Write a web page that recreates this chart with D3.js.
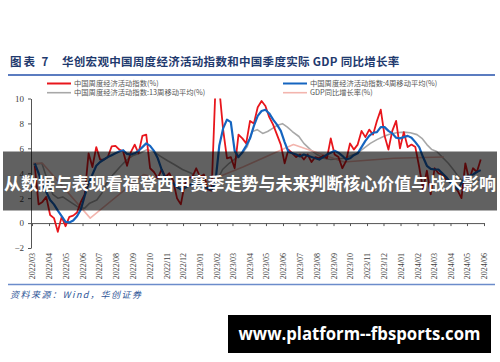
<!DOCTYPE html>
<html>
<head>
<meta charset="utf-8">
<script src="https://cdn.jsdelivr.net/npm/d3@7"></script>
<style>
  html, body { margin: 0; padding: 0; background: #fff; }
  svg { display: block; }
</style>
</head>
<body>
<svg id="chart" width="500" height="362"></svg>
<script>
// month tick labels on the x axis
const monthTicks = [
  "2022/03", "2022/04", "2022/05", "2022/06", "2022/07", "2022/08", "2022/09",
  "2022/10", "2022/11", "2022/12", "2023/01", "2023/02", "2023/03", "2023/04",
  "2023/05", "2023/06", "2023/07", "2023/08", "2023/09", "2023/10", "2023/11",
  "2023/12", "2024/01", "2024/02", "2024/03", "2024/04", "2024/05", "2024/06"
];
const yTicks = [-2, 0, 2, 4, 6, 8, 10];

// weekly series, first week 2022-03-06
const weekStart = "2022-03-06";
const weeklyIndex = [
  4.6, 1.5, 1.7, 2.1, 0.65, 0.4, -0.7, 0.5, -0.25, 0.5,
  0.6, 0.85, 1.7, 2.3, 5.6, 4.5, 6.1, 5.1, 5.1, 5.3,
  6.15, 6.2, 5.9, 5.75, 4.6, 5.7, 6.3, 5.6, 7.0, 7.1,
  4.4, 4.1, 3.6, 4.3, 3.7, 4.0, 3.4, 2.0, 1.5, 3.1,
  3.6, 3.7, 4.4, 3.7, 3.9, 2.7, 2.6, 10.8, 10.8, 7.5,
  5.2, 5.3, 4.4, 7.1, 6.8, 6.4, 8.2, 8.0, 9.3, 9.8,
  9.4, 8.5, 7.9, 7.1, 6.3, 4.8, 5.9, 5.6, 5.3, 5.5,
  5.1, 5.5, 4.9, 5.3, 5.2, 5.4, 5.2, 6.8, 5.5, 5.3,
  4.4, 5.0, 6.4, 5.9, 6.3, 7.4, 6.9, 7.5, 7.1, 8.2,
  9.1, 7.0, 5.9, 7.4, 8.2, 6.0, 7.3, 6.1, 6.3, 6.1,
  4.5, 2.7, 4.2, 2.3, 4.4, 4.0, 3.9, 3.5, 3.3, 3.0,
  2.6, 2.0, 4.8, 3.5, 4.4, 4.1, 5.1
];
const weeklyMA4 = [
  4.8, 4.0, 3.1, 2.5, 1.85, 1.5, 1.0, 0.55, 0.1, 0.05,
  0.2, 0.55, 1.1, 2.2, 3.2, 3.9, 4.6, 4.9, 5.1, 5.3,
  5.45, 5.6, 5.75, 5.85, 5.55, 5.5, 5.6, 5.8, 6.1, 6.4,
  6.2, 5.8, 5.2, 4.3, 3.6, 3.4, 3.2, 2.9, 2.7, 2.8,
  3.0, 3.15, 3.2, 3.1, 2.9, 2.8, 2.7, 3.3, 6.2, 7.6,
  8.3, 8.1, 5.8, 5.3, 5.7, 6.2, 6.8, 7.8, 8.6, 9.0,
  9.1, 8.8, 8.3, 7.9, 7.4, 6.5, 5.7, 5.6, 5.5, 5.35,
  5.5, 5.4, 5.3, 5.2, 5.1, 5.3, 5.5, 5.65, 5.8, 5.65,
  5.4, 5.1, 5.2, 5.45, 5.6, 6.1, 6.6, 7.0, 7.25, 7.3,
  7.7, 7.7, 7.4, 7.2, 6.85, 6.8, 6.9, 7.0, 6.85, 6.5,
  6.1, 5.3, 4.6, 4.35, 4.3, 4.3, 4.0, 3.7, 3.3, 2.95,
  2.7, 3.2, 3.6, 3.8, 3.9, 4.1, 4.25
];

// 13 week moving average, read at its turning points
const ma13 = [
  ["2022-03-03", 4.7], ["2022-03-19", 4.8], ["2022-03-28", 3.6], ["2022-04-08", 2.3],
  ["2022-04-17", 2.0], ["2022-04-26", 2.1], ["2022-05-13", 1.6], ["2022-05-27", 1.2],
  ["2022-06-05", 1.2], ["2022-06-14", 1.6], ["2022-06-27", 1.85], ["2022-07-06", 2.4],
  ["2022-07-15", 3.2], ["2022-07-26", 3.85], ["2022-08-08", 4.5], ["2022-08-20", 5.05],
  ["2022-08-31", 5.4], ["2022-09-13", 5.6], ["2022-09-27", 5.9], ["2022-10-10", 5.7],
  ["2022-10-21", 5.35], ["2022-11-03", 5.0], ["2022-11-15", 4.7], ["2022-11-30", 4.3],
  ["2022-12-16", 4.0], ["2022-12-28", 3.6], ["2023-01-09", 3.35], ["2023-01-18", 3.1],
  ["2023-01-27", 2.8], ["2023-02-02", 3.5], ["2023-02-11", 4.3], ["2023-02-23", 4.8],
  ["2023-03-07", 5.2], ["2023-03-19", 5.6], ["2023-03-28", 6.15], ["2023-04-06", 7.35],
  ["2023-04-15", 7.5], ["2023-04-25", 7.2], ["2023-05-04", 7.35], ["2023-05-13", 7.6],
  ["2023-05-22", 7.85], ["2023-05-31", 7.98], ["2023-06-09", 7.7], ["2023-06-18", 7.35],
  ["2023-06-30", 6.95], ["2023-07-09", 6.4], ["2023-07-21", 5.9], ["2023-08-02", 5.5],
  ["2023-08-14", 5.2], ["2023-08-27", 5.1], ["2023-09-20", 5.2], ["2023-10-14", 5.6],
  ["2023-10-26", 6.0], ["2023-11-07", 6.4], ["2023-11-19", 6.7], ["2023-12-01", 6.95],
  ["2023-12-13", 7.15], ["2023-12-25", 7.25], ["2024-01-07", 7.3], ["2024-01-19", 7.25],
  ["2024-01-31", 7.1], ["2024-02-09", 6.8], ["2024-02-18", 6.3], ["2024-02-27", 5.9],
  ["2024-03-07", 5.75], ["2024-03-19", 5.2], ["2024-03-28", 4.8], ["2024-04-06", 4.3],
  ["2024-04-15", 3.75], ["2024-04-24", 3.3], ["2024-05-07", 3.3], ["2024-05-19", 3.4],
  ["2024-05-28", 3.5]
];

// quarterly real GDP yoy
const gdp = [
  ["2022-03-03", 4.8], ["2022-03-20", 4.8], ["2022-06-15", 0.4], ["2022-09-20", 3.9],
  ["2022-12-20", 2.9], ["2023-03-20", 4.5], ["2023-06-20", 6.3], ["2023-09-20", 4.9],
  ["2023-12-20", 5.2], ["2024-03-20", 5.3]
];

const legendLabels = [
  "中国周度经济活动指数(%)",
  "中国周度经济活动指数:4周移动平均(%)",
  "中国周度经济活动指数:13周移动平均(%)",
  "GDP同比增长率(%)"
];
const colors = ["#e8161c", "#1565c0", "#a8a8a8", "#f3b5ae"];

const cjk = '"Noto Sans CJK SC", "Noto Sans", sans-serif';
const serif = '"Liberation Serif", "DejaVu Serif", serif';

const parseDay = d3.timeParse("%Y-%m-%d");
const parseMonth = d3.timeParse("%Y/%m");
const start = parseDay(weekStart);
const weekly = (vals) => vals.map((v, i) => ({ date: d3.timeDay.offset(start, 7 * i), value: v }));
const pairs = (arr) => arr.map(([d, v]) => ({ date: parseDay(d), value: v }));

const svg = d3.select("#chart");
svg.append("rect").attr("width", 500).attr("height", 362).attr("fill", "#fff");

const x = d3.scaleTime()
  .domain([parseMonth(monthTicks[0]), parseMonth(monthTicks[monthTicks.length - 1])])
  .range([32, 484]);
const y = d3.scaleLinear().domain([-2, 10]).range([248, 98.5]);

// title
svg.append("text")
  .attr("x", 10).attr("y", 66)
  .style("font-family", cjk).style("font-weight", "bold").style("font-size", "11.5px")
  .style("letter-spacing", "2px")
  .attr("fill", "#1f3a6e")
  .text("图表 7");
svg.append("text")
  .attr("x", 62).attr("y", 66)
  .style("font-family", cjk).style("font-weight", "bold").style("font-size", "11.5px")
  .style("letter-spacing", "0.3px")
  .attr("fill", "#1f3a6e")
  .text("华创宏观中国周度经济活动指数和中国季度实际 GDP 同比增长率");
svg.append("line").attr("x1", 8).attr("x2", 495).attr("y1", 75).attr("y2", 75)
  .attr("stroke", "#5b7cc0").attr("stroke-width", 2.2);

// legend
const legendPos = [[47, 83.5], [283, 83.5], [47, 92.7], [283, 92.7]];
const legend = svg.append("g");
legendLabels.forEach((lab, i) => {
  const [lx, ly] = legendPos[i];
  legend.append("line").attr("x1", lx).attr("x2", lx + 24).attr("y1", ly).attr("y2", ly)
    .attr("stroke", colors[i]).attr("stroke-width", i < 2 ? 2 : 1.6);
  legend.append("text").attr("x", lx + 27).attr("y", ly).attr("dy", "0.35em")
    .style("font-family", cjk).style("font-size", "7.3px").attr("fill", "#555")
    .text(lab);
});

// axes
const yAxis = svg.append("g").attr("transform", "translate(31,0)")
  .call(d3.axisLeft(y).tickValues(yTicks).tickSize(3).tickSizeOuter(0).tickPadding(4));
yAxis.selectAll("text").style("font-family", serif).style("font-size", "9px").attr("fill", "#404040");

const xAxis = svg.append("g").attr("transform", `translate(0,${y(0)})`)
  .call(d3.axisBottom(x)
    .tickValues(monthTicks.map(parseMonth))
    .tickFormat(d3.timeFormat("%Y/%m"))
    .tickSize(3).tickSizeOuter(0));
xAxis.selectAll("text")
  .attr("transform", "rotate(-90)")
  .attr("x", -(253 - y(0))).attr("y", 0).attr("dy", "0.35em")
  .style("text-anchor", "end")
  .style("font-family", serif).style("font-size", "8px").attr("fill", "#404040");
svg.selectAll(".domain, .tick line").attr("stroke", "#555").attr("stroke-width", 1);

// lines
svg.append("clipPath").attr("id", "plot")
  .append("rect").attr("x", 30).attr("y", y(10)).attr("width", 458).attr("height", y(-2) - y(10));
const line = d3.line().x(d => x(d.date)).y(d => y(d.value));
const plot = svg.append("g").attr("clip-path", "url(#plot)");
const series = [
  { data: pairs(ma13), color: colors[2], w: 1.6 },
  { data: pairs(gdp), color: colors[3], w: 1.6 },
  { data: weekly(weeklyIndex), color: colors[0], w: 1.8 },
  { data: weekly(weeklyMA4), color: colors[1], w: 2.2 }
];
plot.selectAll("path").data(series).join("path")
  .attr("d", d => line(d.data))
  .attr("fill", "none")
  .attr("stroke", d => d.color)
  .attr("stroke-width", d => d.w)
  .attr("stroke-linejoin", "round");

// footer
svg.append("line").attr("x1", 8).attr("x2", 495).attr("y1", 284.5).attr("y2", 284.5)
  .attr("stroke", "#6b8ccb").attr("stroke-width", 1.5);
svg.append("text").attr("x", 10).attr("y", 298)
  .style("font-family", cjk).style("font-style", "italic").style("font-size", "9px")
  .style("letter-spacing", "1.5px")
  .attr("fill", "#2e5597")
  .text("资料来源：Wind，华创证券");

// overlay banner
svg.append("rect").attr("x", 3).attr("y", 151.5).attr("width", 494).attr("height", 59)
  .attr("fill", "#000").attr("fill-opacity", 0.62);
svg.append("text").attr("x", 250).attr("y", 184.5).attr("dy", "0.35em")
  .style("font-family", cjk).style("font-weight", "bold").style("font-size", "16.8px")
  .style("text-anchor", "middle").attr("fill", "#fff")
  .attr("textLength", 492).attr("lengthAdjust", "spacingAndGlyphs")
  .text("从数据与表现看福登西甲赛季走势与未来判断核心价值与战术影响");

// watermark
svg.append("rect").attr("x", 228).attr("y", 315).attr("width", 263).attr("height", 38).attr("fill", "#000");
svg.append("text").attr("x", 359.5).attr("y", 334).attr("dy", "0.35em")
  .style("font-family", '"Open Sans", sans-serif').style("font-weight", "bold").style("font-size", "17px")
  .style("text-anchor", "middle").attr("fill", "#fff")
  .attr("textLength", 242).attr("lengthAdjust", "spacingAndGlyphs")
  .text("www.platform--fbsports.com");
</script>
</body>
</html>
